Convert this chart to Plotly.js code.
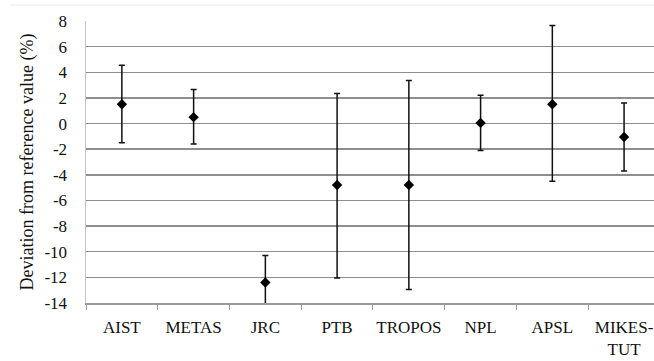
<!DOCTYPE html>
<html>
<head>
<meta charset="utf-8">
<script src="https://cdn.plot.ly/plotly-3.0.1.min.js"></script>
<style>
html,body{margin:0;padding:0;background:#fff;overflow:hidden;}
#chart{width:654px;height:361px;}
</style>
</head>
<body>
<div id="chart"></div>
<script>
var categories = ["AIST", "METAS", "JRC", "PTB", "TROPOS", "NPL", "APSL", "MIKES-<br>TUT"];
var deviation = [1.5, 0.5, -12.4, -4.8, -4.8, 0.05, 1.5, -1.05];
var upperLimit = [4.55, 2.65, -10.3, 2.35, 3.35, 2.2, 7.65, 1.6];
var lowerLimit = [-1.5, -1.6, -14.5, -12.05, -12.95, -2.1, -4.5, -3.7];
var yTickValues = [8, 6, 4, 2, 0, -2, -4, -6, -8, -10, -12, -14];

var errPlus = deviation.map(function (v, i) { return upperLimit[i] - v; });
var errMinus = deviation.map(function (v, i) { return v - lowerLimit[i]; });

var trace = {
  type: "scatter",
  mode: "markers",
  x: categories,
  y: deviation,
  marker: { symbol: "diamond", size: 8, color: "#000" },
  error_y: {
    type: "data",
    symmetric: false,
    array: errPlus,
    arrayminus: errMinus,
    color: "#111",
    thickness: 1.5,
    width: 3
  },
  hoverinfo: "none",
  showlegend: false
};

var fam = "Liberation Serif, Times New Roman, Liberation Sans, serif";

var layout = {
  width: 654,
  height: 361,
  margin: { l: 86, r: 0, t: 21, b: 58 },
  paper_bgcolor: "#fff",
  plot_bgcolor: "#fff",
  font: { family: fam, color: "#111", size: 17 },
  showlegend: false,
  xaxis: {
    type: "category",
    range: [-0.5, 7.417],
    showgrid: false,
    zeroline: false,
    showline: true,
    linecolor: "#9a9a9a",
    linewidth: 1.5,
    ticks: "outside",
    tickson: "boundaries",
    ticklen: 5,
    tickcolor: "#9a9a9a",
    tickwidth: 1,
    tickangle: 0,
    tickfont: { size: 17, family: fam, color: "#111" },
    ticklabelstandoff: 8
  },
  yaxis: {
    range: [-14, 8],
    tickvals: yTickValues,
    ticktext: yTickValues.map(String),
    showgrid: true,
    gridcolor: "#8e8e8e",
    gridwidth: 1.5,
    zeroline: false,
    showline: true,
    linecolor: "#c4c4c4",
    linewidth: 1.5,
    ticks: "",
    tickfont: { size: 17, family: fam, color: "#111" },
    ticklabelstandoff: 14,
    title: { text: "Deviation from reference value (%)", font: { size: 18, family: fam, color: "#111" }, standoff: 6 }
  },
  shapes: [
    { type: "line", xref: "paper", yref: "paper", x0: -0.134, x1: 1, y0: 1.0567, y1: 1.0567,
      line: { color: "#e6eaf2", width: 1 } }
  ]
};

Plotly.newPlot("chart", [trace], layout, { staticPlot: true, displayModeBar: false });
</script>
</body>
</html>
